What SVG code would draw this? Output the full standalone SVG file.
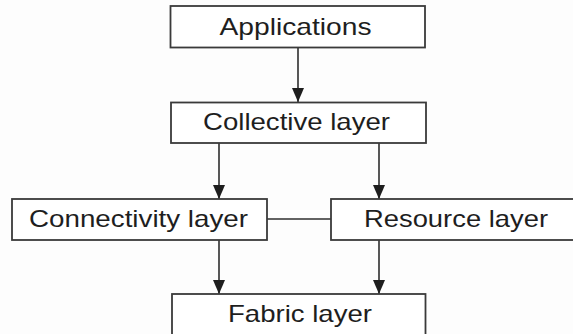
<svg xmlns="http://www.w3.org/2000/svg" width="573" height="334" viewBox="0 0 573 334">
  <style>
    .box { fill: #ffffff; stroke: #3a3a3a; stroke-width: 1.8; }
    .lbl { font-family: "Liberation Sans", Arial, sans-serif; font-size: 24px; fill: #1e1e1e; text-anchor: middle; }
    .wire { stroke: #2e2e2e; stroke-width: 1.6; fill: none; }
  </style>
  <defs>
    <marker id="head" markerUnits="userSpaceOnUse" markerWidth="14" markerHeight="12" refX="14" refY="6" orient="auto" viewBox="0 0 14 12">
      <path d="M0,0 L14,6 L0,12 Z" fill="#1e1e1e"/>
    </marker>
  </defs>
  <rect width="573" height="334" fill="#fdfdfd"/>

  <g id="connectors">
    <line class="wire" x1="298" y1="48" x2="298" y2="102" marker-end="url(#head)"/>
    <line class="wire" x1="219" y1="143" x2="219" y2="199" marker-end="url(#head)"/>
    <line class="wire" x1="379" y1="143" x2="379" y2="199" marker-end="url(#head)"/>
    <line class="wire" x1="267" y1="219" x2="331" y2="219"/>
    <line class="wire" x1="219" y1="240" x2="219" y2="294" marker-end="url(#head)"/>
    <line class="wire" x1="379" y1="240" x2="379" y2="294" marker-end="url(#head)"/>
  </g>

  <g id="applications">
    <rect class="box" x="170.5" y="6" width="254.5" height="41.5"/>
    <text class="lbl" x="295.5" y="35" textLength="152" lengthAdjust="spacingAndGlyphs">Applications</text>
  </g>

  <g id="collective">
    <rect class="box" x="171" y="102.5" width="255" height="40.5"/>
    <text class="lbl" x="296.5" y="129.5" textLength="187" lengthAdjust="spacingAndGlyphs">Collective layer</text>
  </g>

  <g id="connectivity">
    <rect class="box" x="12" y="199" width="255" height="41"/>
    <text class="lbl" x="138.5" y="227" textLength="219" lengthAdjust="spacingAndGlyphs">Connectivity layer</text>
  </g>

  <g id="resource">
    <rect class="box" x="331" y="199" width="260" height="41"/>
    <text class="lbl" x="456" y="227" textLength="184" lengthAdjust="spacingAndGlyphs">Resource layer</text>
  </g>

  <g id="fabric">
    <rect class="box" x="172" y="294" width="253.5" height="60"/>
    <text class="lbl" x="300" y="322" textLength="144" lengthAdjust="spacingAndGlyphs">Fabric layer</text>
  </g>
</svg>
